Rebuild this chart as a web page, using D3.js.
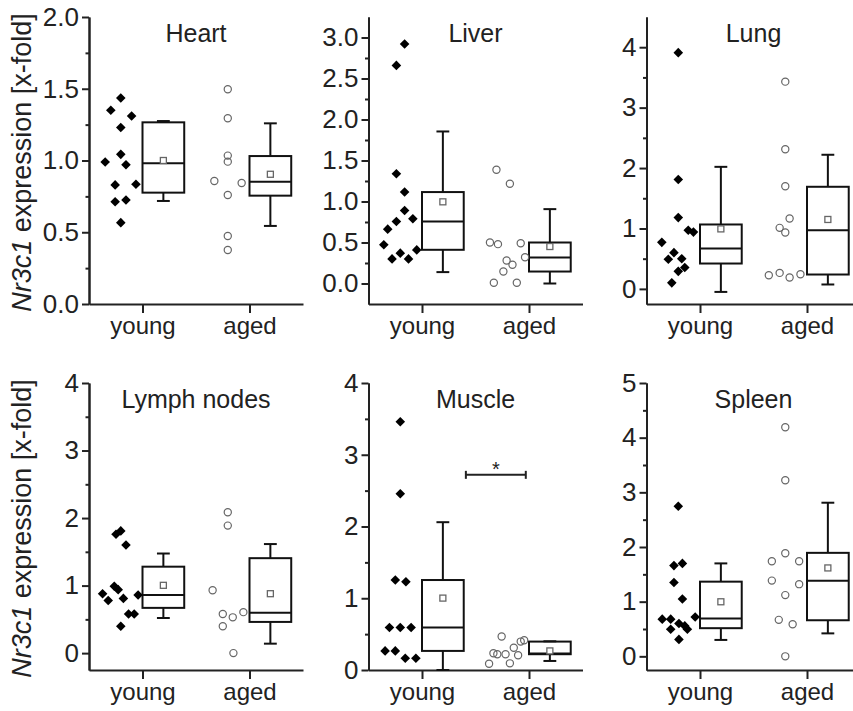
<!DOCTYPE html>
<html>
<head>
<meta charset="utf-8">
<script src="https://cdn.jsdelivr.net/npm/d3@7"></script>
<style>
    body { margin: 0; background: #fff; }
    svg { font-family: "Liberation Sans", Arial, sans-serif; }
    .axis path, .axis line { stroke: #222; stroke-width: 2; }
    .axis text { font-size: 24px; fill: #222; font-family: "Liberation Sans", Arial, sans-serif; }
    .yaxis text { font-size: 26px; }
</style>
</head>
<body>
<div id="chart"></div>
<script>
// ---- data ----
var groups = ["young", "aged"];
var organs = ["Heart", "Liver", "Lung", "Lymph nodes", "Muscle", "Spleen"];

// individual animals (values) and their jitter column in the strip
var heartYoung = [1.435, 1.35, 1.31, 1.23, 1.043, 0.99, 0.97, 0.83, 0.834, 0.713, 0.725, 0.567];
var heartYoungJit = [0, -2.3, 2.5, 0, 0, -3.6, 1.2, -1.3, 3.5, -1.3, 1.2, 0];
var heartAged = [1.496, 1.294, 1.034, 0.992, 0.857, 0.843, 0.76, 0.474, 0.376];
var heartAgedJit = [0, 0, 0, 0, -3.1, 3.2, 0, 0, 0];

var liverYoung = [2.92, 2.66, 1.338, 1.115, 0.89, 0.756, 0.663, 0.789, 0.472, 0.37, 0.30, 0.30, 0.41];
var liverYoungJit = [1, -0.9, -0.9, 1, 1, -0.9, -2.9, 2.9, -3.8, 0, -1.9, 1.9, 3.8];
var liverAged = [1.387, 1.216, 0.50, 0.48, 0.49, 0.32, 0.28, 0.228, 0.146, 0.01, 0.01];
var liverAgedJit = [-2.5, 0.6, -4, -2.15, 3.1, 4.1, -0.15, 1.2, -0.9, -3.1, 2.2];

var lungYoung = [3.91, 1.81, 1.18, 0.97, 0.94, 0.77, 0.60, 0.49, 0.50, 0.354, 0.29, 0.10];
var lungYoungJit = [0, 0, 0, 2.3, 3.5, -3.8, -1, -2.3, 0.8, 1.5, 0, -1.5];
var lungAged = [3.43, 2.31, 1.70, 1.166, 1.01, 0.934, 0.227, 0.265, 0.189, 0.243];
var lungAgedJit = [0, 0, 0, 1, -1.3, 0, -3.8, -1.3, 1, 3.5];

var lymphYoung = [1.76, 1.81, 1.60, 0.99, 0.94, 0.88, 0.78, 0.81, 0.86, 0.58, 0.58, 0.398];
var lymphYoungJit = [-1.1, 0, 1.2, -1.5, -0.6, -4.2, -2.9, 0.6, 4, 1.8, 3.1, 0];
var lymphAged = [2.086, 1.888, 0.93, 0.58, 0.607, 0.53, 0.398, 0.0];
var lymphAgedJit = [0, 0, -3.5, -1.15, 3.6, 1.15, -1.15, 1.3];

var muscleYoung = [3.46, 2.457, 1.254, 1.23, 0.592, 0.592, 0.592, 0.266, 0.266, 0.163, 0.163];
var muscleYoungJit = [0, 0, -1.15, 1.3, -2.5, 0, 2.5, -3.5, -1.15, 1.15, 3.6];
var muscleAged = [0.466, 0.415, 0.396, 0.31, 0.233, 0.22, 0.22, 0.205, 0.088, 0.093];
var muscleAgedJit = [-1.3, 3.9, 3.1, 1.5, -3.2, -2.3, -0.4, 2.5, -4.2, 0.6];

var spleenYoung = [2.745, 1.66, 1.70, 1.35, 1.05, 0.72, 0.68, 0.68, 0.60, 0.496, 0.496, 0.557, 0.31];
var spleenYoungJit = [0, -1, 0.95, -1, 0.95, 3.9, -3.7, -1.75, 0.15, -1.75, 2.1, 1.5, 0.15];
var spleenAged = [4.19, 3.22, 1.886, 1.74, 1.74, 1.385, 1.32, 1.12, 0.667, 0.588, 0.0];
var spleenAgedJit = [0, 0, 0, -3.1, 3.2, -3.1, 3.2, 0, -1.5, 1.7, 0];

// box stats: [lower whisker, q1, median, q3, upper whisker]
var heartBoxes = [[0.718, 0.776, 0.98, 1.266, 1.275], [0.544, 0.755, 0.852, 1.031, 1.259]];
var liverBoxes = [[0.139, 0.411, 0.756, 1.115, 1.854], [0.0, 0.146, 0.317, 0.5, 0.907]];
var lungBoxes = [[-0.05, 0.42, 0.669, 1.066, 2.02], [0.073, 0.238, 0.97, 1.69, 2.22]];
var lymphBoxes = [[0.52, 0.67, 0.86, 1.28, 1.475], [0.14, 0.462, 0.596, 1.406, 1.615]];
var muscleBoxes = [[0, 0.266, 0.592, 1.254, 2.06], [0.126, 0.22, 0.23, 0.396, 0.40]];
var spleenBoxes = [[0.30, 0.515, 0.69, 1.366, 1.70], [0.42, 0.66, 1.384, 1.893, 2.81]];

// means (young, aged)
var heartMeans = [1.0, 0.904];
var liverMeans = [0.996, 0.451];
var lungMeans = [0.993, 1.149];
var lymphMeans = [1.004, 0.88];
var muscleMeans = [1.002, 0.266];
var spleenMeans = [0.998, 1.617];

// y axis ranges and tick labels
var heartDomain = [0, 2], heartTicks = [0, 0.5, 1, 1.5, 2], heartMinor = [0.25, 0.75, 1.25, 1.75];
var liverDomain = [-0.25, 3.25], liverTicks = [0, 0.5, 1, 1.5, 2, 2.5, 3], liverMinor = [0.25, 0.75, 1.25, 1.75, 2.25, 2.75];
var lungDomain = [-0.25, 4.5], lungTicks = [0, 1, 2, 3, 4], lungMinor = [0.5, 1.5, 2.5, 3.5];
var lymphDomain = [-0.25, 4], lymphTicks = [0, 1, 2, 3, 4], lymphMinor = [0.5, 1.5, 2.5, 3.5];
var muscleDomain = [0, 4], muscleTicks = [0, 1, 2, 3, 4], muscleMinor = [0.5, 1.5, 2.5, 3.5];
var spleenDomain = [-0.25, 5], spleenTicks = [0, 1, 2, 3, 4, 5], spleenMinor = [0.5, 1.5, 2.5, 3.5, 4.5];

// significance bracket in muscle (young vs aged)
var muscleSig = {from: 1.41, to: 1.97, level: 2.72, label: "*"};

var panels = [
    {name: organs[0], pts: [[heartYoung, heartYoungJit], [heartAged, heartAgedJit]], boxes: heartBoxes, means: heartMeans, domain: heartDomain, ticks: heartTicks, minor: heartMinor, fmt: d3.format(".1f")},
    {name: organs[1], pts: [[liverYoung, liverYoungJit], [liverAged, liverAgedJit]], boxes: liverBoxes, means: liverMeans, domain: liverDomain, ticks: liverTicks, minor: liverMinor, fmt: d3.format(".1f")},
    {name: organs[2], pts: [[lungYoung, lungYoungJit], [lungAged, lungAgedJit]], boxes: lungBoxes, means: lungMeans, domain: lungDomain, ticks: lungTicks, minor: lungMinor, fmt: d3.format("d")},
    {name: organs[3], pts: [[lymphYoung, lymphYoungJit], [lymphAged, lymphAgedJit]], boxes: lymphBoxes, means: lymphMeans, domain: lymphDomain, ticks: lymphTicks, minor: lymphMinor, fmt: d3.format("d")},
    {name: organs[4], pts: [[muscleYoung, muscleYoungJit], [muscleAged, muscleAgedJit]], boxes: muscleBoxes, means: muscleMeans, domain: muscleDomain, ticks: muscleTicks, minor: muscleMinor, fmt: d3.format("d"), sig: muscleSig},
    {name: organs[5], pts: [[spleenYoung, spleenYoungJit], [spleenAged, spleenAgedJit]], boxes: spleenBoxes, means: spleenMeans, domain: spleenDomain, ticks: spleenTicks, minor: spleenMinor, fmt: d3.format("d")}
];

// ---- layout ----
var svgWidth = 853;
var svgHeight = 711;
var plotW = 214;
var plotH = 287;
var colX = [89, 368.5, 646.5];
var rowY = [17, 383];
var stripOffset = -0.203; // strip sits left of the tick
var jitStep = 0.0405;     // one jitter column, in category units
var boxWidth = 0.39;      // box sits right of the tick
var capHalf = 0.06;

var svg = d3.select("#chart")
    .append("svg")
    .attr("width", svgWidth)
    .attr("height", svgHeight);

svg.append("rect").attr("width", svgWidth).attr("height", svgHeight).attr("fill", "#fff");

var diamond = d3.symbol().type(d3.symbolSquare).size(46);

panels.forEach(function(p, i) {
    var g = svg.append("g")
        .attr("transform", `translate(${colX[i % 3]}, ${rowY[Math.floor(i / 3)]})`);

    var x = d3.scaleLinear().domain([0.5, 2.5]).range([0, plotW]);
    var y = d3.scaleLinear().domain(p.domain).range([plotH, 0]);

    // axes
    g.append("g").attr("class", "axis")
        .call(d3.axisLeft(y).tickValues(p.minor).tickSize(3.5).tickSizeOuter(0).tickFormat(""));
    g.append("g").attr("class", "axis yaxis")
        .call(d3.axisLeft(y).tickValues(p.ticks).tickSize(7).tickPadding(3).tickSizeOuter(0).tickFormat(p.fmt));
    g.append("g").attr("class", "axis")
        .attr("transform", `translate(0, ${plotH})`)
        .call(d3.axisBottom(x).tickValues([1, 2]).tickSize(9).tickPadding(4).tickSizeOuter(0)
            .tickFormat(d => groups[d - 1]));

    // title
    g.append("text")
        .attr("x", x(1.5))
        .attr("y", 25)
        .attr("text-anchor", "middle")
        .attr("font-size", 25)
        .attr("fill", "#222")
        .text(p.name);

    // y axis title on the first column
    if (i % 3 === 0) {
        var t = g.append("text")
            .attr("transform", `translate(-58, ${plotH / 2 + 2}) rotate(-90)`)
            .attr("text-anchor", "middle")
            .attr("font-size", 27)
            .attr("fill", "#222");
        t.append("tspan").attr("font-style", "italic").text("Nr3c1");
        t.append("tspan").text(" expression [x-fold]");
    }

    // boxes, whiskers, medians, means
    p.boxes.forEach(function(b, gi) {
        var x0 = x(gi + 1), x1 = x(gi + 1 + boxWidth), xc = x(gi + 1 + boxWidth / 2);
        var bg = g.append("g").attr("stroke", "#111").attr("stroke-width", 2).attr("fill", "none");
        bg.append("line").attr("x1", xc).attr("x2", xc).attr("y1", y(b[3])).attr("y2", y(b[4]));
        bg.append("line").attr("x1", xc).attr("x2", xc).attr("y1", y(b[1])).attr("y2", y(b[0]));
        bg.append("line").attr("x1", x(gi + 1 + boxWidth / 2 - capHalf)).attr("x2", x(gi + 1 + boxWidth / 2 + capHalf))
            .attr("y1", y(b[4])).attr("y2", y(b[4]));
        bg.append("line").attr("x1", x(gi + 1 + boxWidth / 2 - capHalf)).attr("x2", x(gi + 1 + boxWidth / 2 + capHalf))
            .attr("y1", y(b[0])).attr("y2", y(b[0]));
        bg.append("rect").attr("x", x0).attr("y", y(b[3]))
            .attr("width", x1 - x0).attr("height", y(b[1]) - y(b[3]));
        bg.append("line").attr("x1", x0).attr("x2", x1).attr("y1", y(b[2])).attr("y2", y(b[2]));
        g.append("rect")
            .attr("x", xc - 3).attr("y", y(p.means[gi]) - 3)
            .attr("width", 6).attr("height", 6)
            .attr("fill", "#fff").attr("stroke", "#666").attr("stroke-width", 1.3);
    });

    // individual points
    p.pts.forEach(function(s, gi) {
        var vals = s[0], jit = s[1];
        var pts = vals.map((v, k) => ({v: v, j: jit[k]}));
        var cx = d => x(gi + 1 + stripOffset + d.j * jitStep);
        if (gi === 0) {
            g.selectAll(null).data(pts).enter().append("path")
                .attr("d", diamond)
                .attr("transform", d => `translate(${cx(d)}, ${y(d.v)}) rotate(45)`)
                .attr("fill", "#000");
        } else {
            g.selectAll(null).data(pts).enter().append("circle")
                .attr("cx", cx)
                .attr("cy", d => y(d.v))
                .attr("r", 3.6)
                .attr("fill", "none")
                .attr("stroke", "#666")
                .attr("stroke-width", 1.2);
        }
    });

    // significance bracket
    if (p.sig) {
        var sy = y(p.sig.level);
        var sg = g.append("g").attr("stroke", "#222").attr("stroke-width", 2);
        sg.append("line").attr("x1", x(p.sig.from)).attr("x2", x(p.sig.to)).attr("y1", sy).attr("y2", sy);
        sg.append("line").attr("x1", x(p.sig.from)).attr("x2", x(p.sig.from)).attr("y1", sy - 4).attr("y2", sy + 4);
        sg.append("line").attr("x1", x(p.sig.to)).attr("x2", x(p.sig.to)).attr("y1", sy - 4).attr("y2", sy + 4);
        g.append("text")
            .attr("x", x((p.sig.from + p.sig.to) / 2))
            .attr("y", sy + 1)
            .attr("text-anchor", "middle")
            .attr("font-size", 20)
            .attr("fill", "#222")
            .text(p.sig.label);
    }
});
</script>
</body>
</html>
